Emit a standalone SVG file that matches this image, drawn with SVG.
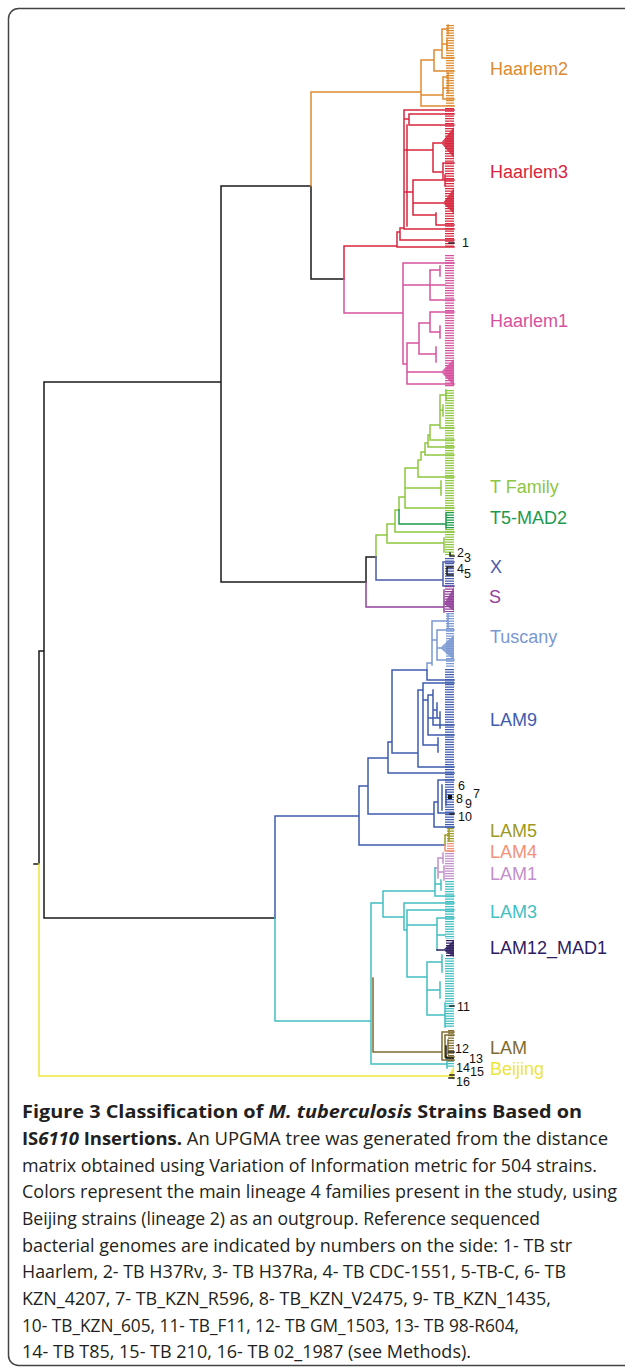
<svg xmlns="http://www.w3.org/2000/svg" width="625" height="1368" viewBox="0 0 625 1368">
<style>
.br{fill:none;stroke-width:1.5;stroke-linecap:square;stroke-linejoin:miter}
.comb{fill:none;stroke-dasharray:1.2 1.3}
.fan{stroke:none;opacity:0.85}
.k{stroke:#1a1a1a}
.h2{stroke:#DD8A2E}.h3{stroke:#D7263D}.h1{stroke:#D6519E}.tf{stroke:#8DC63F}.t5{stroke:#1E9A4E}
.x{stroke:#4B5BAA}.s{stroke:#93409A}.tu{stroke:#7A98D2}.l9{stroke:#3E5BAF}.l5{stroke:#9C9A22}
.l4{stroke:#F39279}.l1{stroke:#C290CC}.l3{stroke:#42BFC2}.l12{stroke:#2E1D5F}.lam{stroke:#7E6B2F}.bj{stroke:#EDE53A}
.lab{font-family:"Liberation Sans",Arial,sans-serif;font-size:18px}
.num{font-family:"Liberation Sans",Arial,sans-serif;font-size:12.5px;fill:#111}
.cap{font-family:"Open Sans","Liberation Sans",sans-serif;font-size:18px;fill:#231f20}
.b{font-weight:bold}.i{font-style:italic}
</style>
<rect id="frame" x="8.5" y="8.5" width="640" height="1357" rx="10" fill="#fff" stroke="#444" stroke-width="1.5"/>
<g id="connectors">
  <path class="br k" d="M34,864H39 M39,651V864 M39,651H44 M44,382V918 M44,382H221 M221,186V582 M221,186H311 M311,186V279H344 M221,582H366 M366,557V582 M366,557H376 M44,918H275"/>
  <g id="clade-haarlem2">
    <path class="br h2" d="M311,186V92H421 M421,60V106H454 M421,60H434 M434,50V71H454 M434,50H442 M442,29V58H454 M442,29H448 M448,25V34 M442,44H447 M447,39V50 M421,95H443 M443,77V99H454 M443,77H448 M448,73V85 M443,88H448 M448,84V93"/>
    <line class="comb h2" x1="450" y1="25" x2="450" y2="106" stroke-width="8"/>
  </g>
  <g id="clade-haarlem3">
    <path class="br h3" d="M344,246V279 M344,246H397 M397,232V247H454 M397,232H400 M400,228V240H454 M400,228H404 M404,110V229H454 M404,110H454 M407,125V226 M404,119H409 M409,114V125H454 M409,114H454 M404,150H433 M433,143V172 M433,143H441 M433,172H443 M443,163V180H454 M443,163H454 M404,192H413 M413,180V215 M413,180H445 M445,175V186 M413,203H443 M413,215H436 M436,213V225H454"/>
    <polygon class="fan" fill="#D7263D" points="441,143 454,127 454,158"/>
    <polygon class="fan" fill="#D7263D" points="443,203 454,188 454,214"/>
    <line class="comb h3" x1="449.5" y1="108" x2="449.5" y2="247" stroke-width="9"/>
  </g>
  <g id="clade-haarlem1">
    <path class="br h1" d="M344,279V313 M344,313H403 M403,263V364 M403,263H454 M403,285H430 M430,270V300H454 M430,270H440 M440,266V276 M430,285H445 M403,364H407 M407,343V384H454 M407,343H419 M419,323V354 M419,323H430 M430,312V332 M430,312H454 M430,332H440 M440,326V338 M419,354H436 M436,347V362 M407,372H441"/>
    <polygon class="fan" fill="#D6519E" points="441,372 454,359 454,386"/>
    <line class="comb h1" x1="449.5" y1="255" x2="449.5" y2="387" stroke-width="9"/>
  </g>
  <g id="clade-tfamily">
    <path class="br tf" d="M376,535V557 M376,535H387 M387,524V543 M387,543H444 M444,538V552 M387,524H395 M395,510V532 M395,532H454 M395,510H399 M399,497V510 M399,497H405 M405,468V508H454 M405,468H418 M418,460V477H454 M418,460H421 M421,452V460 M421,452H425 M425,443V455H454 M425,443H428 M428,435V447H454 M428,435H430 M430,425V440H454 M430,425H440 M440,395V428H454 M440,395H446 M446,390V400 M440,410H443 M443,405V416 M405,488H441 M441,481V495"/>
    <line class="comb tf" x1="449.5" y1="390" x2="449.5" y2="512" stroke-width="9"/>
    <line class="comb tf" x1="449.5" y1="529" x2="449.5" y2="555" stroke-width="9"/>
  </g>
  <g id="clade-t5mad2">
    <path class="br t5" d="M399,510V524 M399,524H446 M446,513V528"/>
    <line class="comb t5" x1="450" y1="512" x2="450" y2="529" stroke-width="8"/>
  </g>
  <g id="clade-x">
    <path class="br x" d="M376,557V580 M376,580H443 M443,562V586 M443,562H454 M443,586H454"/>
    <line class="comb x" x1="449.5" y1="558" x2="449.5" y2="587" stroke-width="9"/>
  </g>
  <g id="clade-s">
    <path class="br s" d="M366,582V607 M366,607H444 M444,590V612"/>
    <polygon class="fan" fill="#93409A" points="444,604 454,587 454,611"/>
    <line class="comb s" x1="449.5" y1="586" x2="449.5" y2="612" stroke-width="9"/>
  </g>
  <g id="clade-tuscany">
    <path class="br tu" d="M427,663V670 M427,663H432 M432,621V665 M432,621H448 M448,614V628 M432,640H437 M437,630V660 M437,630H454 M437,660H454 M437,648H440"/>
    <polygon class="fan" fill="#7A98D2" points="440,648 454,635 454,660"/>
    <line class="comb tu" x1="450" y1="613" x2="450" y2="668" stroke-width="8"/>
  </g>
  <g id="clade-lam9">
    <path class="br l9" d="M275,816V918 M275,816H359 M359,786V845 M359,845H445 M359,786H368 M368,758V814 M368,814H434 M434,802V827H454 M434,802H438 M438,780V813H454 M438,780H454 M442,785V810 M446,790V805 M368,758H388 M388,742V773H454 M388,742H392 M392,670V753 M392,670H427 M427,670V680H454 M392,753H418 M418,690V767H454 M418,690H423 M423,683V745 M423,683H454 M423,745H438 M438,738V752 M423,700H428 M428,695V735H454 M428,695H433 M433,690V725H454 M433,710H437 M437,703V718 M428,718H440 M440,712V728"/>
    <line class="comb l9" x1="449.5" y1="669" x2="449.5" y2="828" stroke-width="9"/>
  </g>
  <g id="clade-lam5">
    <path class="br l5" d="M445,835V845 M445,835H449 M449,829V841"/>
    <line class="comb l5" x1="450.5" y1="828" x2="450.5" y2="842" stroke-width="7"/>
  </g>
  <g id="clade-lam4">
    <path class="br l4" d="M445,845V851 M445,851H454"/>
    <line class="comb l4" x1="450.5" y1="843" x2="450.5" y2="852" stroke-width="7"/>
  </g>
  <g id="clade-lam1">
    <path class="br l1" d="M435,868H438 M438,858V878 M438,858H443 M443,853V863 M438,872H444 M444,866V880"/>
    <line class="comb l1" x1="449.5" y1="853" x2="449.5" y2="880" stroke-width="9"/>
  </g>
  <g id="clade-lam3">
    <path class="br l3" d="M275,918V1021 M275,1021H371 M371,903V1064 M371,903H383 M383,891V917 M383,891H435 M435,868V896H454 M435,884H441 M441,880V890 M383,917H404 M404,903V930 M404,903H454 M404,930H407 M407,910V977 M407,910H454 M407,925H437 M437,918V950 M437,918H454 M437,935H445 M407,977H427 M427,962V1015 M427,962H442 M442,955V972 M427,1015H445 M445,1003V1027 M427,990H440 M440,982V998 M371,1064H447 M447,1058V1068"/>
    <line class="comb l3" x1="449.5" y1="881" x2="449.5" y2="939" stroke-width="9"/>
    <line class="comb l3" x1="449.5" y1="958" x2="449.5" y2="1028" stroke-width="9"/>
    <line class="comb l3" x1="450.5" y1="1058" x2="450.5" y2="1067" stroke-width="7"/>
  </g>
  <g id="clade-lam12">
    <path class="br l12" d="M437,950H443"/>
    <polygon class="fan" fill="#2E1D5F" points="443,950 454,940 454,957"/>
    <line class="comb l12" x1="450" y1="940" x2="450" y2="957" stroke-width="8"/>
  </g>
  <g id="clade-lam">
    <path class="br lam" d="M373,978V1052 M373,1052H442 M442,1032V1060 M442,1032H454 M442,1060H454 M445,1035V1057 M445,1035H454 M445,1057H454 M448,1040V1054"/>
    <line class="comb lam" x1="451" y1="1030" x2="451" y2="1062" stroke-width="6"/>
  </g>
  <g id="clade-beijing">
    <path class="br bj" d="M39,864V1076H448"/>
    <polygon class="fan" fill="#EDE53A" points="448,1076 454,1066 454,1080"/>
  </g>
  <path class="br k" d="M449,243H454 M450,553V556H454 M447,567V575H453 M447,567H453 M450,814H454 M450,1006H454 M446,1046V1058H453 M449,1052H454 M450,1075H454 M449,1078H454"/>
  <rect x="448" y="795" width="4" height="4" fill="#111"/>
</g>
<g id="labels">
  <text id="label-haarlem2" class="lab" x="490" y="75" fill="#DD8A2E">Haarlem2</text>
  <text id="label-haarlem3" class="lab" x="490" y="178" fill="#D7263D">Haarlem3</text>
  <text id="label-haarlem1" class="lab" x="490" y="327" fill="#D6519E">Haarlem1</text>
  <text id="label-tfamily" class="lab" x="490" y="493" fill="#8DC63F">T Family</text>
  <text id="label-t5mad2" class="lab" x="490" y="524" fill="#1E9A4E">T5-MAD2</text>
  <text id="label-x" class="lab" x="490" y="573" fill="#4B5BAA">X</text>
  <text id="label-s" class="lab" x="489" y="603" fill="#93409A">S</text>
  <text id="label-tuscany" class="lab" x="490" y="643" fill="#7A98D2">Tuscany</text>
  <text id="label-lam9" class="lab" x="490" y="726" fill="#3E5BAF">LAM9</text>
  <text id="label-lam5" class="lab" x="490" y="837" fill="#9C9A22">LAM5</text>
  <text id="label-lam4" class="lab" x="490" y="858" fill="#F39279">LAM4</text>
  <text id="label-lam1" class="lab" x="490" y="880" fill="#C290CC">LAM1</text>
  <text id="label-lam3" class="lab" x="490" y="918" fill="#42BFC2">LAM3</text>
  <text id="label-lam12" class="lab" x="490" y="954" fill="#2E1D5F">LAM12_MAD1</text>
  <text id="label-lam" class="lab" x="490" y="1054" fill="#7E6B2F">LAM</text>
  <text id="label-beijing" class="lab" x="490" y="1075" fill="#EDE53A">Beijing</text>
</g>
<g id="ref-numbers">
  <text class="num" x="462" y="247">1</text>
  <text class="num" x="457" y="557">2</text>
  <text class="num" x="464" y="562">3</text>
  <text class="num" x="457" y="573">4</text>
  <text class="num" x="464" y="578">5</text>
  <text class="num" x="458" y="790">6</text>
  <text class="num" x="473" y="798">7</text>
  <text class="num" x="456" y="803">8</text>
  <text class="num" x="465" y="808">9</text>
  <text class="num" x="458" y="821">10</text>
  <text class="num" x="457" y="1011">11</text>
  <text class="num" x="455" y="1053">12</text>
  <text class="num" x="469" y="1063">13</text>
  <text class="num" x="456" y="1072">14</text>
  <text class="num" x="470" y="1076">15</text>
  <text class="num" x="456" y="1086">16</text>
</g>
<g id="caption">
  <text class="cap" x="22" y="1118" textLength="560" lengthAdjust="spacingAndGlyphs"><tspan class="b">Figure 3 Classification of </tspan><tspan class="b i">M. tuberculosis</tspan><tspan class="b"> Strains Based on</tspan></text>
  <text class="cap" x="22" y="1145" textLength="586" lengthAdjust="spacingAndGlyphs"><tspan class="b">IS</tspan><tspan class="b i">6110</tspan><tspan class="b"> Insertions.</tspan> An UPGMA tree was generated from the distance</text>
  <text class="cap" x="22" y="1172" textLength="575" lengthAdjust="spacingAndGlyphs">matrix obtained using Variation of Information metric for 504 strains.</text>
  <text class="cap" x="22" y="1198" textLength="595" lengthAdjust="spacingAndGlyphs">Colors represent the main lineage 4 families present in the study, using</text>
  <text class="cap" x="22" y="1225" textLength="518" lengthAdjust="spacingAndGlyphs">Beijing strains (lineage 2) as an outgroup. Reference sequenced</text>
  <text class="cap" x="22" y="1252" textLength="550" lengthAdjust="spacingAndGlyphs">bacterial genomes are indicated by numbers on the side: 1- TB str</text>
  <text class="cap" x="22" y="1278" textLength="544" lengthAdjust="spacingAndGlyphs">Haarlem, 2- TB H37Rv, 3- TB H37Ra, 4- TB CDC-1551, 5-TB-C, 6- TB</text>
  <text class="cap" x="22" y="1305" textLength="529" lengthAdjust="spacingAndGlyphs">KZN_4207, 7- TB_KZN_R596, 8- TB_KZN_V2475, 9- TB_KZN_1435,</text>
  <text class="cap" x="22" y="1332" textLength="497" lengthAdjust="spacingAndGlyphs">10- TB_KZN_605, 11- TB_F11, 12- TB GM_1503, 13- TB 98-R604,</text>
  <text class="cap" x="22" y="1358" textLength="449" lengthAdjust="spacingAndGlyphs">14- TB T85, 15- TB 210, 16- TB 02_1987 (see Methods).</text>
</g>
</svg>
